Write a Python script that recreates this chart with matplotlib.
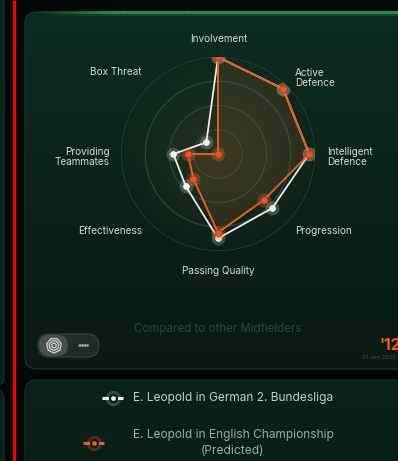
import numpy as np
import matplotlib.pyplot as plt
from matplotlib.patches import FancyBboxPatch, RegularPolygon, Circle
from matplotlib.collections import LineCollection

plt.rcParams['font.family'] = ['Inter', 'DejaVu Sans']

categories = ['Involvement', 'Active Defence', 'Intelligent Defence', 'Progression',
              'Passing Quality', 'Effectiveness', 'Providing Teammates', 'Box Threat']
bundesliga = [1.00, 0.95, 0.94, 0.79, 0.87, 0.47, 0.46, 0.17]
championship = [1.00, 0.95, 0.94, 0.67, 0.81, 0.36, 0.31, 0.00]
ring_levels = [0.25, 0.5, 0.75, 1.0]

W, H = 398, 461
fig = plt.figure(figsize=(W / 100, H / 100), dpi=100)
fig.patch.set_facecolor('#020806')

# background layer in pixel coordinates
bg = fig.add_axes([0, 0, 1, 1], zorder=0)
bg.set_xlim(0, W)
bg.set_ylim(H, 0)
bg.axis('off')


def card(x0, y0, x1, y1, top, bottom, edge, rad=12):
    box = FancyBboxPatch((x0, y0), x1 - x0, y1 - y0,
                         boxstyle='round,pad=0,rounding_size=%d' % rad,
                         facecolor='none', edgecolor=edge, lw=0.8, zorder=2)
    bg.add_patch(box)
    t = np.linspace(0, 1, 200)[:, None, None]
    c0 = np.array(top)[None, None, :] / 255
    c1 = np.array(bottom)[None, None, :] / 255
    grad = c0 * (1 - t) + c1 * t
    grad = np.repeat(grad, 2, axis=1)
    im = bg.imshow(grad, extent=(x0, x1, y1, y0), aspect='auto', zorder=1,
                   interpolation='bilinear')
    im.set_clip_path(box)
    return box


# side panels on the far left
card(-20, -20, 4, 385, (12, 36, 27), (10, 30, 23), '#12302a', rad=8)
card(-20, 390, 4, 480, (10, 32, 24), (10, 30, 23), '#12302a', rad=8)

# red divider
bg.plot([13.5, 13.5], [0, H], color='#ff0000', lw=2.4, zorder=3, solid_capstyle='butt')

# main card and legend card
main = card(25, 12, 420, 369, (14, 44, 32), (9, 26, 19), '#1a3a2e')
card(25, 380, 420, 480, (11, 34, 25), (9, 30, 22), '#173528')

# bright green top edge of main card
xs = np.linspace(35, 398, 120)
segs = [[(xs[i], 12.5), (xs[i + 1], 12.5)] for i in range(len(xs) - 1)]
alph = np.clip((xs[:-1] - 35) / 80, 0, 1) * 0.9
cols = [(0.13, 0.66, 0.33, a) for a in alph]
bg.add_collection(LineCollection(segs, colors=cols, lw=2.0, zorder=4))
cols2 = [(0.13, 0.66, 0.33, a * 0.25) for a in alph]
bg.add_collection(LineCollection([[(p[0][0], 14.5), (p[1][0], 14.5)] for p in segs],
                                 colors=cols2, lw=3.0, zorder=4))

# warm glow at the chart centre
cx, cy = 218, 154
yy, xx = np.mgrid[0:H, 0:W]
rr = np.hypot(xx - cx, yy - cy)
glow = np.zeros((H, W, 4))
glow[..., 0] = 95 / 255
glow[..., 1] = 85 / 255
glow[..., 2] = 58 / 255
glow[..., 3] = 0.34 * np.clip(1 - rr / 115, 0, 1) ** 1.6
gim = bg.imshow(glow, extent=(0, W, H, 0), zorder=2, interpolation='bilinear')
gim.set_clip_path(main)

# radar
R = 97
pax = fig.add_axes([(cx - R) / W, (H - cy - R) / H, 2 * R / W, 2 * R / H],
                   projection='polar', zorder=1)
pax.patch.set_alpha(0)
pax.set_theta_offset(np.pi / 2)
pax.set_theta_direction(-1)
pax.set_ylim(0, 1)
pax.set_yticks(ring_levels)
pax.set_yticklabels([])
pax.set_xticks([])
pax.xaxis.grid(False)
pax.yaxis.grid(True, color='#2c4a3c', lw=0.8)
pax.spines['polar'].set_visible(False)

ang = np.linspace(0, 2 * np.pi, len(categories), endpoint=False)
ang_c = np.append(ang, ang[0])
b = np.append(bundesliga, bundesliga[0])
c = np.append(championship, championship[0])

pax.fill(ang_c, c, color='#9a5a2a', alpha=0.2, lw=0, zorder=2)
pax.plot(ang_c, b, color='#e8ece8', lw=1.3, zorder=3)
pax.plot(ang, bundesliga, 'o', ms=10, color='#ffffff', alpha=0.2, mec='none', zorder=3)
pax.plot(ang, bundesliga, 'o', ms=4.2, color='#f4f6f4', mec='#ffffff', mew=0.5, zorder=4)
pax.plot(ang_c, c, color='#ee5a1c', lw=1.4, zorder=5)
pax.plot(ang, championship, 'o', ms=10, color='#ff7a3a', alpha=0.25, mec='none', zorder=5)
pax.plot(ang, championship, 'o', ms=5, color='#f0561a', mec='#b83c10', mew=0.6, zorder=6)

# axis labels
lab = dict(color='#d4dad6', fontsize=7.2, zorder=6)
bg.text(219, 39, 'Involvement', ha='center', va='center', **lab)
bg.text(295, 78, 'Active\nDefence', ha='left', va='center', linespacing=1.05,
        multialignment='left', **lab)
bg.text(327, 157, 'Intelligent\nDefence', ha='left', va='center', linespacing=1.05,
        multialignment='left', **lab)
bg.text(295, 231, 'Progression', ha='left', va='center', **lab)
bg.text(218, 271, 'Passing Quality', ha='center', va='center', **lab)
bg.text(142, 231, 'Effectiveness', ha='right', va='center', **lab)
bg.text(110, 157, 'Providing\nTeammates', ha='right', va='center', linespacing=1.05,
        multialignment='right', **lab)
bg.text(142, 72, 'Box Threat', ha='right', va='center', **lab)

bg.text(218, 329, 'Compared to other Midfielders', ha='center', va='center',
        color='#2a4639', fontsize=8.3, zorder=6)

# view toggle
pill = FancyBboxPatch((38, 334), 61, 23, boxstyle='round,pad=0,rounding_size=11.5',
                      facecolor='#1f2d28', edgecolor='#34443e', lw=0.8, zorder=5)
bg.add_patch(pill)
knob = FancyBboxPatch((39, 335), 29, 21, boxstyle='round,pad=0,rounding_size=10.5',
                      facecolor='#46504c', edgecolor='none', zorder=6)
bg.add_patch(knob)
for rpx in [7.5, 5.0, 2.4]:
    bg.add_patch(RegularPolygon((54, 345.5), 7, radius=rpx, facecolor='none',
                                edgecolor='#c8ccca', lw=1.0, zorder=7))
for dx in [80, 82.5, 85, 87.5]:
    bg.add_patch(Circle((dx, 345.5), 0.7, color='#9aa29e', zorder=7))

# date badge, partly running off the right edge
bg.text(401, 345, "'12", ha='right', va='center', color='#ff5a1a', fontsize=11,
        fontweight='bold', zorder=6)
bg.text(362, 357.5, '01 Jun 2025', ha='left', va='center', color='#3d4f47',
        fontsize=4.2, zorder=6, clip_on=True)

# legend
bg.plot([102, 123], [398, 398], color='#f0f2f0', lw=2.2, zorder=6, solid_capstyle='butt')
bg.plot([112.5], [398], 'o', ms=11, color='#ffffff', alpha=0.18, mec='none', zorder=6)
bg.plot([112.5], [398], 'o', ms=5, color='#f4f6f4', mec='#0b2219', mew=1.6, zorder=7)
bg.text(133, 398, 'E. Leopold in German 2. Bundesliga', ha='left', va='center',
        color='#c4ccc8', fontsize=8.6, zorder=6)

bg.plot([83, 104], [443, 443], color='#ee5a1c', lw=2.2, zorder=6, solid_capstyle='butt')
bg.plot([93.5], [443], 'o', ms=11, color='#ff6a2a', alpha=0.25, mec='none', zorder=6)
bg.plot([93.5], [443], 'o', ms=5, color='#f0561a', mec='#0b2219', mew=1.6, zorder=7)
bg.text(233, 443, 'E. Leopold in English Championship\n(Predicted)', ha='center',
        va='center', color='#9eaaa4', fontsize=8.6, linespacing=1.35, zorder=6)

fig.savefig('out.png', dpi=100, facecolor=fig.get_facecolor())
